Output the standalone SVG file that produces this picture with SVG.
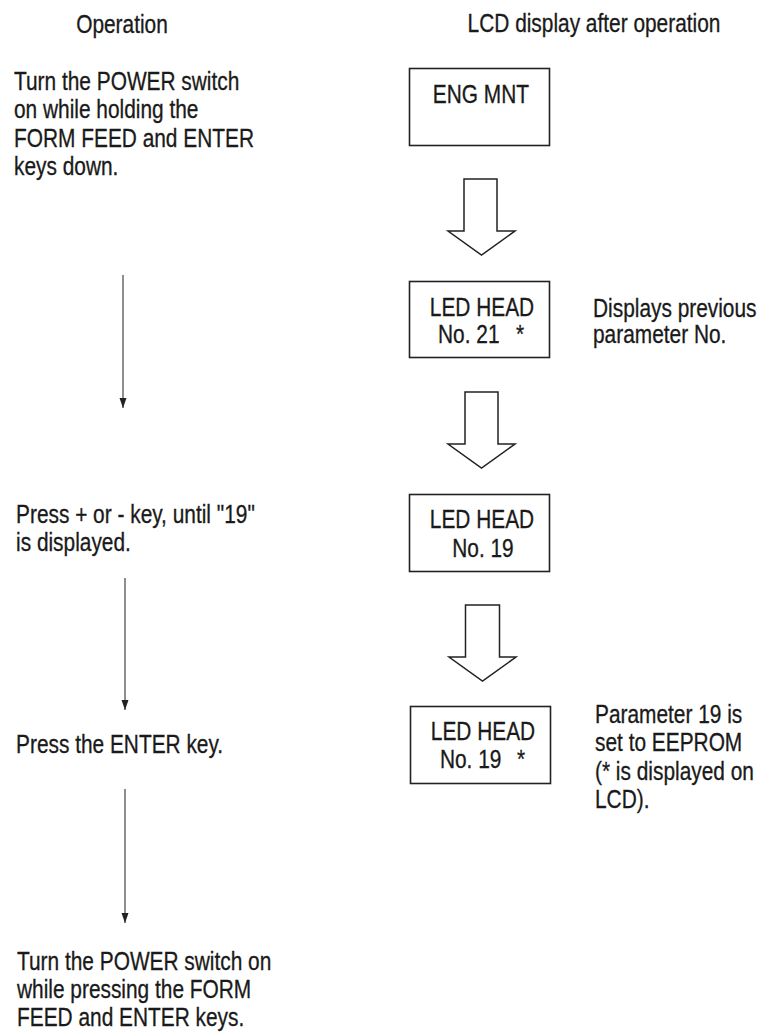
<svg xmlns="http://www.w3.org/2000/svg" width="767" height="1032" viewBox="0 0 767 1032">
<style>
text{font-family:"Liberation Sans",Arial,sans-serif;font-size:25px;fill:#1a1a1a;stroke:#1a1a1a;stroke-width:0.3}
.c{text-anchor:middle}
.box{fill:#fff;stroke:#222;stroke-width:1.6}
.big{fill:#fff;stroke:#222;stroke-width:1.5;stroke-linejoin:miter}
.flow{stroke:#444;stroke-width:1.2;fill:none;marker-end:url(#ah)}
</style>
<defs>
<marker id="ah" markerUnits="userSpaceOnUse" markerWidth="12" markerHeight="8" refX="11" refY="4" orient="auto" viewBox="0 0 12 8">
<path d="M1,0.5 L11,4 L1,7.5 Z" fill="#222"/>
</marker>
</defs>
<rect width="767" height="1032" fill="#fff"/>
<g id="headers" transform="scale(0.835 1)">
<text class="c" x="146.1" y="33">Operation</text>
<text class="c" x="711.4" y="32">LCD display after operation</text>
</g>
<g id="op1" transform="scale(0.835 1)">
<text x="16.8" y="90">Turn the POWER switch</text>
<text x="16.8" y="118.5">on while holding the</text>
<text x="16.8" y="147">FORM FEED and ENTER</text>
<text x="16.8" y="175.5">keys down.</text>
</g>
<g id="op2" transform="scale(0.835 1)">
<text x="19.2" y="523">Press + or - key, until "19"</text>
<text x="19.2" y="551.5">is displayed.</text>
</g>
<g id="op3" transform="scale(0.835 1)">
<text x="19.2" y="753">Press the ENTER key.</text>
</g>
<g id="op4" transform="scale(0.835 1)">
<text x="20.4" y="970">Turn the POWER switch on</text>
<text x="20.4" y="998.5">while pressing the FORM</text>
<text x="20.4" y="1026">FEED and ENTER keys.</text>
</g>
<g id="lcd1">
<rect class="box" x="409.5" y="68.5" width="140" height="77"/>
<text class="c" transform="scale(0.835 1)" x="576" y="103">ENG MNT</text>
</g>
<g id="lcd2">
<rect class="box" x="409.5" y="281.5" width="140" height="76"/>
<g transform="scale(0.835 1)">
<text class="c" x="577.2" y="316">LED HEAD</text>
<text x="524.6" y="343">No. 21</text>
<text x="618" y="343">*</text>
</g>
</g>
<g id="lcd3">
<rect class="box" x="409.5" y="494.5" width="140" height="77"/>
<g transform="scale(0.835 1)">
<text class="c" x="577.2" y="528">LED HEAD</text>
<text class="c" x="578.4" y="557">No. 19</text>
</g>
</g>
<g id="lcd4">
<rect class="box" x="410.5" y="706.5" width="140" height="77"/>
<g transform="scale(0.835 1)">
<text class="c" x="578.4" y="740">LED HEAD</text>
<text x="526.9" y="768">No. 19</text>
<text x="619.2" y="768">*</text>
</g>
</g>
<g id="note2" transform="scale(0.835 1)">
<text x="710.2" y="317">Displays previous</text>
<text x="710.2" y="343">parameter No.</text>
</g>
<g id="note4" transform="scale(0.835 1)">
<text x="712.6" y="723">Parameter 19 is</text>
<text x="712.6" y="751.5">set to EEPROM</text>
<text x="712.6" y="780">(* is displayed on</text>
<text x="712.6" y="808.5">LCD).</text>
</g>
<g id="connectors">
<path class="big" d="M464,179 H497 V231 H515 L481.5,255 L448,231 H464 Z"/>
<path class="big" d="M465,392 H498 V444 H515 L481.5,468 L448,444 H465 Z"/>
<path class="big" d="M465.5,605 H499.5 V657 H516 L482.5,681 L449,657 H465.5 Z"/>
<line class="flow" x1="123" y1="275" x2="123" y2="408"/>
<line class="flow" x1="125" y1="578" x2="125" y2="710"/>
<line class="flow" x1="125" y1="789" x2="125" y2="923"/>
</g>
</svg>
